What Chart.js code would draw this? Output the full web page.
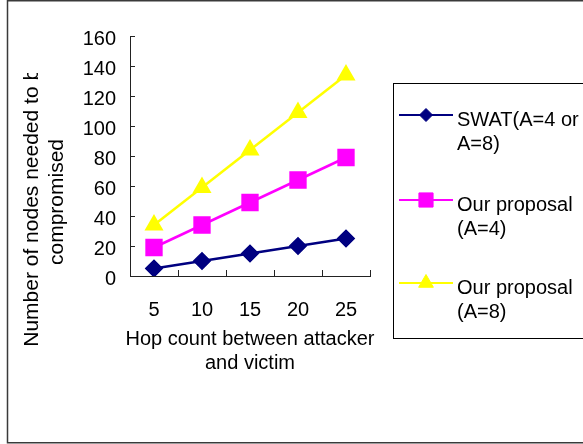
<!DOCTYPE html>
<html>
<head>
<meta charset="utf-8">
<script src="https://cdn.jsdelivr.net/npm/chart.js@4.4.1/dist/chart.umd.min.js"></script>
<style>
  body { margin: 0; background: #fff; }
  canvas { display: block; }
</style>
</head>
<body>
<canvas id="hopChart" width="583" height="444"></canvas>
<script>
// values
const hopCounts = ['5', '10', '15', '20', '25'];
const swatNodes = [5, 10, 15, 20, 25];
const proposalA4Nodes = [19, 34, 49, 64, 79];
const proposalA8Nodes = [34, 59, 84, 109, 134];
const seriesNames = [
    ['SWAT(A=4 or', 'A=8)'],
    ['Our proposal', '(A=4)'],
    ['Our proposal', '(A=8)']
];
const yMin = 0;
const yMax = 160;
const yStep = 20;
const xTitleLines = ['Hop count between attacker', 'and victim'];
const yTitleLines = ['Number of nodes needed to be', 'compromised'];

const FONT = '"Liberation Sans", Arial, sans-serif';

function drawMarker(ctx, style, x, y, r, color) {
    ctx.save();
    ctx.fillStyle = color;
    ctx.strokeStyle = color;
    ctx.lineWidth = 1;
    ctx.beginPath();
    if (style === 'rectRot') {
        ctx.moveTo(x - r, y);
        ctx.lineTo(x, y - r);
        ctx.lineTo(x + r, y);
        ctx.lineTo(x, y + r);
    } else if (style === 'rect') {
        const s = r * Math.SQRT1_2;
        ctx.rect(x - s, y - s, 2 * s, 2 * s);
    } else {
        ctx.moveTo(x, y - r);
        ctx.lineTo(x + r * 0.866, y + r / 2);
        ctx.lineTo(x - r * 0.866, y + r / 2);
    }
    ctx.closePath();
    ctx.fill();
    ctx.stroke();
    ctx.restore();
}

// white page and the grey frame round it
const framePlugin = {
    id: 'frame',
    beforeDraw(chart) {
        const ctx = chart.ctx;
        ctx.save();
        ctx.fillStyle = '#fff';
        ctx.fillRect(0, 0, chart.width, chart.height);
        ctx.strokeStyle = '#3a3a3a';
        ctx.lineWidth = 1.5;
        ctx.strokeRect(7.5, 0.75, chart.width + 20, chart.height - 2);
        ctx.restore();
    }
};

// tick marks point into the plot, like the original
const inwardTicks = {
    id: 'inwardTicks',
    beforeDatasetsDraw(chart) {
        const ctx = chart.ctx;
        const xs = chart.scales.x;
        const ys = chart.scales.y;
        const area = chart.chartArea;
        ctx.save();
        ctx.strokeStyle = '#222';
        ctx.lineWidth = 1;
        ctx.beginPath();
        for (let v = yMin; v <= yMax; v += yStep) {
            const y = Math.round(ys.getPixelForValue(v)) + 0.5;
            ctx.moveTo(area.left, y);
            ctx.lineTo(area.left + 5, y);
        }
        for (let i = 0; i <= hopCounts.length; i++) {
            const x = Math.round(xs.getPixelForValue(i - 0.5)) + 0.5;
            ctx.moveTo(x, area.bottom);
            ctx.lineTo(x, area.bottom - 6);
        }
        ctx.stroke();
        ctx.restore();
    }
};

const axisTitles = {
    id: 'axisTitles',
    afterDraw(chart) {
        const ctx = chart.ctx;
        const area = chart.chartArea;
        ctx.save();
        ctx.fillStyle = '#000';
        ctx.textAlign = 'center';
        ctx.textBaseline = 'middle';
        ctx.font = '20px ' + FONT;
        const cx = (area.left + area.right) / 2;
        xTitleLines.forEach((line, i) => {
            ctx.fillText(line, cx, area.bottom + 63 + i * 24);
        });
        ctx.restore();

        // y title is cut off at the top in the original
        ctx.save();
        ctx.beginPath();
        ctx.rect(0, 73, chart.width, chart.height);
        ctx.clip();
        ctx.fillStyle = '#000';
        ctx.textAlign = 'center';
        ctx.textBaseline = 'middle';
        ctx.font = '21px ' + FONT;
        yTitleLines.forEach((line, i) => {
            ctx.save();
            ctx.translate(32 + i * 25, 202);
            ctx.rotate(-Math.PI / 2);
            ctx.fillText(line, 0, 0);
            ctx.restore();
        });
        ctx.restore();
    }
};

const boxLegend = {
    id: 'boxLegend',
    afterDraw(chart) {
        const ctx = chart.ctx;
        const rowY = [115, 200, 283];
        ctx.save();
        ctx.strokeStyle = '#000';
        ctx.lineWidth = 1;
        ctx.strokeRect(393.5, 83.5, 220, 255);
        chart.data.datasets.forEach((ds, i) => {
            const y = rowY[i];
            ctx.strokeStyle = ds.borderColor;
            ctx.lineWidth = 2;
            ctx.beginPath();
            ctx.moveTo(399, y);
            ctx.lineTo(453, y);
            ctx.stroke();
            drawMarker(ctx, ds.pointStyle, 426, y, ds.legendRadius, ds.borderColor);
            ctx.fillStyle = '#000';
            ctx.font = '20px ' + FONT;
            ctx.textAlign = 'left';
            ctx.textBaseline = 'alphabetic';
            seriesNames[i].forEach((line, j) => {
                ctx.fillText(line, 457, y + 11 + j * 24);
            });
        });
        ctx.restore();
    }
};

const ctx = document.getElementById('hopChart').getContext('2d');
const chart = new Chart(ctx, {
    type: 'line',
    data: {
        labels: hopCounts,
        datasets: [{
            label: seriesNames[0].join(' '),
            data: swatNodes,
            borderColor: '#000080',
            backgroundColor: '#000080',
            pointStyle: 'rectRot',
            pointRadius: 7.5,
            legendRadius: 6.5,
            borderWidth: 2.5
        }, {
            label: seriesNames[1].join(' '),
            data: proposalA4Nodes,
            borderColor: '#ff00ff',
            backgroundColor: '#ff00ff',
            pointStyle: 'rect',
            pointRadius: 10.5,
            legendRadius: 10,
            borderWidth: 2.5
        }, {
            label: seriesNames[2].join(' '),
            data: proposalA8Nodes,
            borderColor: '#ffff00',
            backgroundColor: '#ffff00',
            pointStyle: 'triangle',
            pointRadius: 8.5,
            legendRadius: 8.5,
            borderWidth: 2.5
        }]
    },
    options: {
        responsive: false,
        animation: false,
        devicePixelRatio: 1,
        layout: {
            padding: { top: 36, right: 213, bottom: 0, left: 0 }
        },
        elements: {
            line: { tension: 0 },
            point: { borderWidth: 1, hoverRadius: 8 }
        },
        plugins: {
            legend: { display: false },
            tooltip: { enabled: false }
        },
        scales: {
            x: {
                type: 'category',
                offset: true,
                grid: { display: false, drawTicks: false },
                border: { display: true, color: '#222', width: 1 },
                ticks: {
                    color: '#000',
                    padding: 22,
                    maxRotation: 0,
                    font: { family: FONT, size: 20 }
                },
                afterFit(scale) { scale.height = 168; }
            },
            y: {
                min: yMin,
                max: yMax,
                grid: { display: false, drawTicks: false },
                border: { display: true, color: '#222', width: 1 },
                ticks: {
                    stepSize: yStep,
                    color: '#000',
                    padding: 14,
                    labelOffset: 3,
                    font: { family: FONT, size: 20 }
                },
                afterFit(scale) { scale.width = 130; }
            }
        }
    },
    plugins: [framePlugin, inwardTicks, axisTitles, boxLegend]
});
</script>
</body>
</html>
